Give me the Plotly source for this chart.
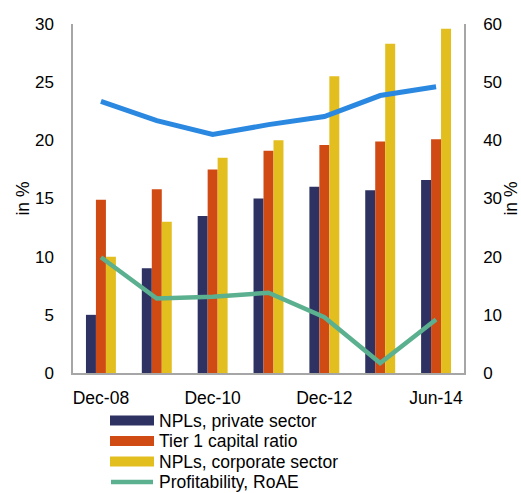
import plotly.graph_objects as go

# Periods (every other one labelled on the axis)
periods = ["Dec-08", "Dec-09", "Dec-10", "Dec-11", "Dec-12", "Dec-13", "Jun-14"]
shown_ticks = ["Dec-08", "Dec-10", "Dec-12", "Jun-14"]

# Left axis series (in %)
npl_private = [5.0, 9.0, 13.5, 15.0, 16.0, 15.7, 16.6]
tier1_ratio = [14.9, 15.8, 17.5, 19.1, 19.6, 19.9, 20.1]
npl_corporate = [10.0, 13.0, 18.5, 20.0, 25.5, 28.3, 29.6]

# Right axis series (in %)
blue_series = [46.7, 43.4, 41.0, 42.7, 44.1, 47.7, 49.2]
roae = [19.9, 12.8, 13.1, 13.8, 9.6, 1.7, 9.2]

NAVY = "#2d3263"
ORANGE = "#d04a14"
YELLOW = "#e3be1f"
TEAL = "#5bb08f"
BLUE = "#2b88e0"
AXIS = "#a6a6a6"
FONT = "Liberation Sans, Arial, sans-serif"

W, H = 521, 493
ML, MR, MT, MB = 73, 57, 24, 120
PW, PH = W - ML - MR, H - MT - MB

fig = go.Figure()

bar_series = [
    ("NPLs, private sector", npl_private, NAVY),
    ("Tier 1 capital ratio", tier1_ratio, ORANGE),
    ("NPLs, corporate sector", npl_corporate, YELLOW),
]
for name, vals, col in bar_series:
    fig.add_trace(go.Bar(x=periods, y=vals, name=name, marker_color=col,
                         marker_line_width=0))

fig.add_trace(go.Scatter(x=periods, y=blue_series, yaxis="y2", mode="lines",
                         line=dict(color=BLUE, width=5), name="blue"))
fig.add_trace(go.Scatter(x=periods, y=roae, yaxis="y2", mode="lines",
                         line=dict(color=TEAL, width=4.5),
                         name="Profitability, RoAE"))


# Legend below the plot, drawn as swatches plus text (pixel -> paper)
def px_x(px):
    return (px - ML) / PW


def px_y(py):
    return (H - MB - py) / PH


legend_rows = [(n, c, "bar") for n, _, c in bar_series] + \
              [("Profitability, RoAE", TEAL, "line")]
row_y = [420.5, 441.0, 461.5, 482.0]
sw_x0, sw_x1, txt_x = 110, 154, 157

shapes, annotations = [], []
for (name, col, kind), yc in zip(legend_rows, row_y):
    if kind == "bar":
        shapes.append(dict(type="rect", xref="paper", yref="paper",
                           x0=px_x(sw_x0), x1=px_x(sw_x1),
                           y0=px_y(yc + 5), y1=px_y(yc - 5),
                           fillcolor=col, line=dict(width=0)))
    else:
        shapes.append(dict(type="line", xref="paper", yref="paper",
                           x0=px_x(sw_x0 + 1), x1=px_x(sw_x1 - 1),
                           y0=px_y(yc), y1=px_y(yc),
                           line=dict(color=col, width=4.5)))
    annotations.append(dict(text=name, xref="paper", yref="paper",
                            x=px_x(txt_x), y=px_y(yc), xanchor="left",
                            yanchor="middle", showarrow=False,
                            font=dict(size=17.5, family=FONT, color="#000")))

fig.update_layout(
    width=W, height=H,
    margin=dict(l=ML, r=MR, t=MT, b=MB),
    paper_bgcolor="white", plot_bgcolor="white",
    font=dict(family=FONT, size=17, color="#000000"),
    showlegend=False,
    barmode="group", bargap=0.464, bargroupgap=0,
    xaxis=dict(type="category", tickvals=shown_ticks, ticktext=shown_ticks,
               showline=True, linecolor=AXIS, linewidth=1.5, ticks="",
               showgrid=False, ticklabelstandoff=8, range=[-0.5, 6.5],
               automargin=False, tickfont=dict(size=17.5)),
    yaxis=dict(range=[0, 30], dtick=5, showline=True, linecolor=AXIS,
               linewidth=1.5, showgrid=False, zeroline=False, ticks="",
               ticklabelstandoff=14, automargin=False,
               title=dict(text="in %", standoff=1, font=dict(size=17.5))),
    yaxis2=dict(range=[0, 60], dtick=10, overlaying="y", side="right",
                showline=True, linecolor=AXIS, linewidth=1.5, showgrid=False,
                zeroline=False, ticks="", ticklabelstandoff=14,
                automargin=False,
                title=dict(text="in %", standoff=17, font=dict(size=17.5))),
    shapes=shapes,
    annotations=annotations,
)

fig.write_html("out.html")
